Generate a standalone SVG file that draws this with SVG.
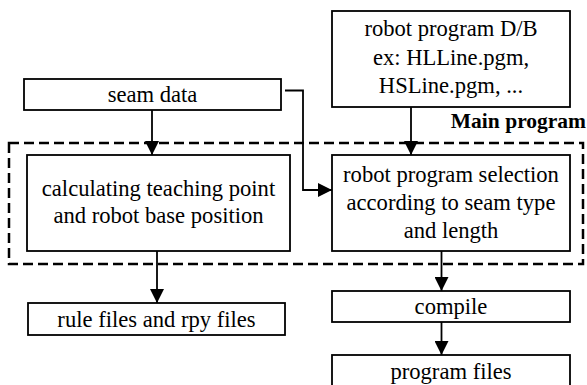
<svg xmlns="http://www.w3.org/2000/svg" width="587" height="385" viewBox="0 0 587 385">
<style>
.box{fill:#fff;stroke:#000;stroke-width:1.8}
.t{font-family:'Liberation Serif','Times New Roman',Times,serif;font-size:22.6px;fill:#000;text-anchor:middle}
.b{font-family:'Liberation Serif','Times New Roman',Times,serif;font-size:21.5px;font-weight:bold;fill:#000;text-anchor:end}
.c{fill:none;stroke:#000;stroke-width:1.8}
</style>
<defs>
<marker id="ah" markerWidth="14" markerHeight="14" refX="14" refY="7" orient="auto" markerUnits="userSpaceOnUse">
<path d="M0,0 L14,7 L0,14 Z" fill="#000"/>
</marker>
</defs>
<rect x="9" y="143" width="574" height="121" fill="none" stroke="#000" stroke-width="2.5" stroke-dasharray="10 5"/>
<text class="b" x="586" y="128">Main program</text>
<g id="seam">
<rect class="box" x="24" y="79" width="257" height="31"/>
<text class="t" x="152.5" y="102">seam data</text>
</g>
<g id="robotdb">
<rect class="box" x="332" y="11" width="238" height="96"/>
<text class="t" x="451" y="36">robot program D/B</text>
<text class="t" x="451" y="64.5">ex: HLLine.pgm,</text>
<text class="t" x="451" y="93">HSLine.pgm, ...</text>
</g>
<g id="calc">
<rect class="box" x="27" y="155" width="263" height="96"/>
<text class="t" x="158.5" y="196">calculating teaching point</text>
<text class="t" x="158.5" y="223">and robot base position</text>
</g>
<g id="select">
<rect class="box" x="332" y="155" width="238" height="96"/>
<text class="t" x="451" y="181.5">robot program selection</text>
<text class="t" x="451" y="209.5">according to seam type</text>
<text class="t" x="451" y="238">and length</text>
</g>
<g id="rule">
<rect class="box" x="28" y="303" width="257" height="32"/>
<text class="t" x="156.5" y="326.5">rule files and rpy files</text>
</g>
<g id="compile">
<rect class="box" x="332" y="291" width="238" height="31"/>
<text class="t" x="451" y="314">compile</text>
</g>
<g id="progfiles">
<rect class="box" x="332" y="355" width="238" height="40"/>
<text class="t" x="451" y="379">program files</text>
</g>
<g id="connectors">
<path class="c" d="M152,110 V155" marker-end="url(#ah)"/>
<path class="c" d="M285,90.5 H303 V190 H332" marker-end="url(#ah)"/>
<path class="c" d="M411,107 V155" marker-end="url(#ah)"/>
<path class="c" d="M157,251 V303" marker-end="url(#ah)"/>
<path class="c" d="M441.5,251 V291" marker-end="url(#ah)"/>
<path class="c" d="M441.5,322 V355" marker-end="url(#ah)"/>
</g>
</svg>
